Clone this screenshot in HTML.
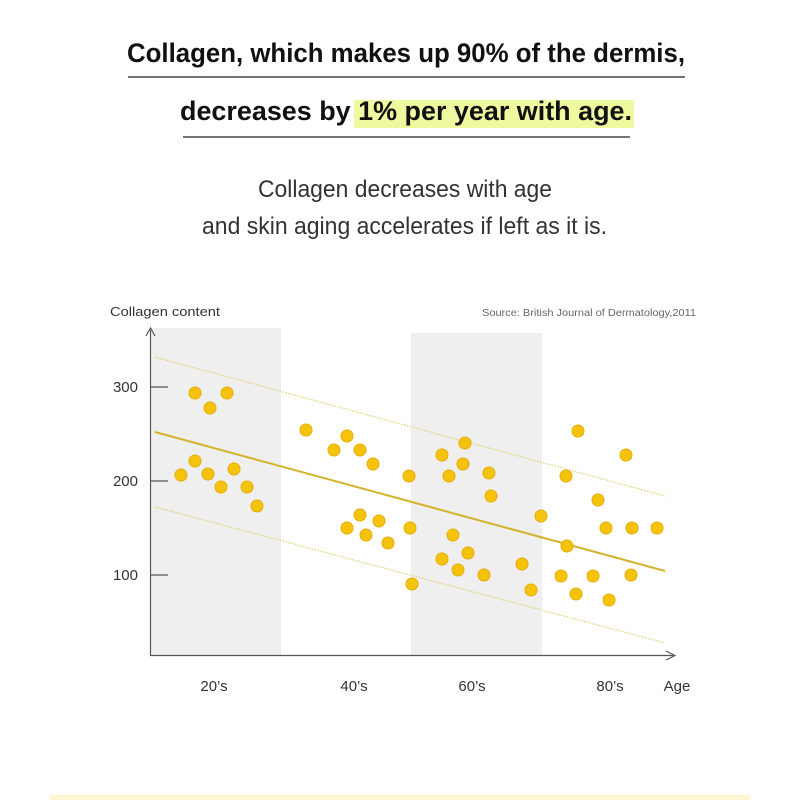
<!DOCTYPE html>
<html><head><meta charset="utf-8"><style>
html,body{margin:0;padding:0;background:#fff;}
svg{display:block;font-family:"Liberation Sans",sans-serif;}
</style></head><body>
<svg width="800" height="800" viewBox="0 0 800 800" xmlns="http://www.w3.org/2000/svg">
<rect x="354" y="100" width="280" height="28" fill="#eef9a0"/>
<text x="127" y="62" font-size="27" font-weight="bold" fill="#111" textLength="558" lengthAdjust="spacingAndGlyphs">Collagen, which makes up 90% of the dermis,</text>
<line x1="128" y1="77" x2="685" y2="77" stroke="#222" stroke-width="1.3"/>
<text x="180" y="120" font-size="27" font-weight="bold" fill="#111" textLength="452" lengthAdjust="spacingAndGlyphs">decreases by 1% per year with age.</text>
<line x1="183" y1="137" x2="630" y2="137" stroke="#222" stroke-width="1.3"/>
<text x="258" y="197" font-size="24" fill="#333" textLength="294" lengthAdjust="spacingAndGlyphs">Collagen decreases with age</text>
<text x="202" y="234" font-size="24" fill="#333" textLength="405" lengthAdjust="spacingAndGlyphs">and skin aging accelerates if left as it is.</text>

<text x="110" y="316" font-size="13" fill="#333" textLength="110" lengthAdjust="spacingAndGlyphs">Collagen content</text>
<text x="696" y="316" font-size="10.5" fill="#666" text-anchor="end" textLength="214" lengthAdjust="spacingAndGlyphs">Source: British Journal of Dermatology,2011</text>

<rect x="151" y="328" width="130" height="327" fill="#efefef"/>
<rect x="411" y="333" width="131" height="322" fill="#efefef"/>
<line x1="150.5" y1="330" x2="150.5" y2="656" stroke="#555" stroke-width="1.2"/>
<path d="M146 336 L150.5 328 L155 336" fill="none" stroke="#555" stroke-width="1.2"/>
<line x1="150" y1="655.5" x2="673" y2="655.5" stroke="#555" stroke-width="1.2"/>
<path d="M666 651 L675 655.5 L666 660" fill="none" stroke="#555" stroke-width="1.2"/>
<g stroke="#555" stroke-width="1.2"><line x1="151" y1="387" x2="168" y2="387"/><line x1="151" y1="481" x2="168" y2="481"/><line x1="151" y1="575" x2="168" y2="575"/></g>
<g font-size="15" fill="#333" text-anchor="end"><text x="138" y="392">300</text><text x="138" y="486">200</text><text x="138" y="580">100</text></g>
<g font-size="15" fill="#333" text-anchor="middle"><text x="214" y="691">20’s</text><text x="354" y="691">40’s</text><text x="472" y="691">60’s</text><text x="610" y="691">80’s</text><text x="677" y="691">Age</text></g>

<line x1="155" y1="357" x2="665" y2="496" stroke="#e0cf6a" stroke-width="1.2" stroke-dasharray="1.5 1.5"/>
<line x1="155" y1="507" x2="665" y2="643" stroke="#e0cf6a" stroke-width="1.2" stroke-dasharray="1.5 1.5"/>
<line x1="155" y1="432" x2="665" y2="571" stroke="#d4b22a" stroke-width="2"/>

<g fill="#f6c30c" stroke="#e7ad00" stroke-width="1">
<circle cx="195" cy="393" r="6"/><circle cx="210" cy="408" r="6"/><circle cx="227" cy="393" r="6"/>
<circle cx="181" cy="475" r="6"/><circle cx="195" cy="461" r="6"/><circle cx="208" cy="474" r="6"/><circle cx="221" cy="487" r="6"/><circle cx="234" cy="469" r="6"/><circle cx="247" cy="487" r="6"/><circle cx="257" cy="506" r="6"/>
<circle cx="306" cy="430" r="6"/><circle cx="334" cy="450" r="6"/><circle cx="347" cy="436" r="6"/><circle cx="360" cy="450" r="6"/><circle cx="373" cy="464" r="6"/>
<circle cx="347" cy="528" r="6"/><circle cx="360" cy="515" r="6"/><circle cx="366" cy="535" r="6"/><circle cx="379" cy="521" r="6"/><circle cx="388" cy="543" r="6"/>
<circle cx="409" cy="476" r="6"/><circle cx="410" cy="528" r="6"/><circle cx="412" cy="584" r="6"/>
<circle cx="442" cy="455" r="6"/><circle cx="449" cy="476" r="6"/><circle cx="465" cy="443" r="6"/><circle cx="463" cy="464" r="6"/><circle cx="489" cy="473" r="6"/><circle cx="491" cy="496" r="6"/>
<circle cx="453" cy="535" r="6"/><circle cx="442" cy="559" r="6"/><circle cx="458" cy="570" r="6"/><circle cx="468" cy="553" r="6"/><circle cx="484" cy="575" r="6"/>
<circle cx="522" cy="564" r="6"/><circle cx="531" cy="590" r="6"/><circle cx="541" cy="516" r="6"/>
<circle cx="566" cy="476" r="6"/><circle cx="567" cy="546" r="6"/><circle cx="578" cy="431" r="6"/><circle cx="561" cy="576" r="6"/><circle cx="576" cy="594" r="6"/><circle cx="593" cy="576" r="6"/><circle cx="598" cy="500" r="6"/><circle cx="609" cy="600" r="6"/><circle cx="606" cy="528" r="6"/><circle cx="626" cy="455" r="6"/><circle cx="632" cy="528" r="6"/><circle cx="631" cy="575" r="6"/><circle cx="657" cy="528" r="6"/>
</g>
<rect x="50" y="795" width="700" height="5" fill="#fdf6d0"/>
</svg>
</body></html>
